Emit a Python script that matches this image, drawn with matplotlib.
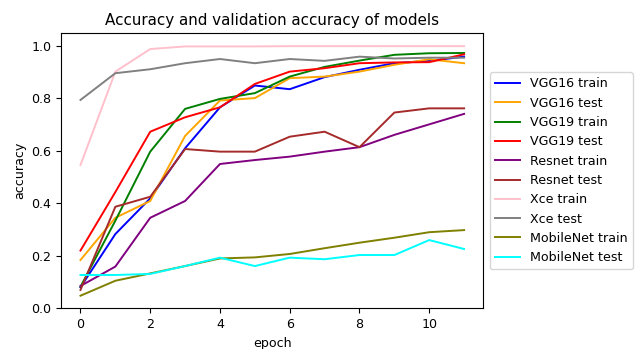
import matplotlib
matplotlib.use("Agg")
import matplotlib.pyplot as plt

epochs = list(range(12))
vgg16_train = [0.080, 0.283, 0.419, 0.610, 0.766, 0.849, 0.835, 0.881, 0.909, 0.934, 0.943, 0.959]
vgg16_test = [0.184, 0.345, 0.409, 0.657, 0.792, 0.801, 0.877, 0.883, 0.902, 0.928, 0.949, 0.934]
vgg19_train = [0.082, 0.334, 0.597, 0.760, 0.798, 0.820, 0.883, 0.920, 0.944, 0.966, 0.972, 0.973]
vgg19_test = [0.220, 0.443, 0.673, 0.728, 0.766, 0.855, 0.902, 0.915, 0.934, 0.937, 0.938, 0.968]
resnet_train = [0.085, 0.159, 0.345, 0.409, 0.550, 0.565, 0.578, 0.597, 0.614, 0.661, 0.701, 0.741]
resnet_test = [0.070, 0.387, 0.425, 0.607, 0.597, 0.597, 0.654, 0.673, 0.614, 0.746, 0.762, 0.762]
xce_train = [0.546, 0.902, 0.988, 0.998, 0.998, 0.998, 0.999, 0.999, 0.999, 0.999, 0.999, 0.999]
xce_test = [0.794, 0.896, 0.911, 0.934, 0.950, 0.934, 0.950, 0.943, 0.959, 0.952, 0.955, 0.955]
mobilenet_train = [0.048, 0.105, 0.133, 0.161, 0.190, 0.194, 0.207, 0.229, 0.250, 0.269, 0.290, 0.298]
mobilenet_test = [0.127, 0.127, 0.131, 0.161, 0.193, 0.161, 0.193, 0.187, 0.203, 0.203, 0.260, 0.226]

series = [
    ("VGG16 train", vgg16_train, "blue"),
    ("VGG16 test", vgg16_test, "orange"),
    ("VGG19 train", vgg19_train, "green"),
    ("VGG19 test", vgg19_test, "red"),
    ("Resnet train", resnet_train, "purple"),
    ("Resnet test", resnet_test, "brown"),
    ("Xce train", xce_train, "pink"),
    ("Xce test", xce_test, "gray"),
    ("MobileNet train", mobilenet_train, "olive"),
    ("MobileNet test", mobilenet_test, "cyan"),
]

fig = plt.figure(figsize=(6.37, 3.49), dpi=100)
ax = fig.add_axes([61.3 / 637, 1 - 308.3 / 349, (483.3 - 61.3) / 637, (308.3 - 33.3) / 349])
for label, vals, color in series:
    ax.plot(epochs, vals, color=color, label=label, linewidth=1.4)

ax.set_xlim(-0.55, 11.55)
ax.set_ylim(0.0, 1.048)
ax.set_xticks([0, 2, 4, 6, 8, 10])
ax.set_yticks([0.0, 0.2, 0.4, 0.6, 0.8, 1.0])
ax.set_title("Accuracy and validation accuracy of models", fontsize=10.9)
ax.set_xlabel("epoch", fontsize=9.1)
ax.set_ylabel("accuracy", fontsize=9.1)
ax.tick_params(labelsize=9.1)
ax.legend(loc="center left", bbox_to_anchor=(1.0, 0.5), fontsize=9.1)

fig.savefig("out.png", dpi=100)
